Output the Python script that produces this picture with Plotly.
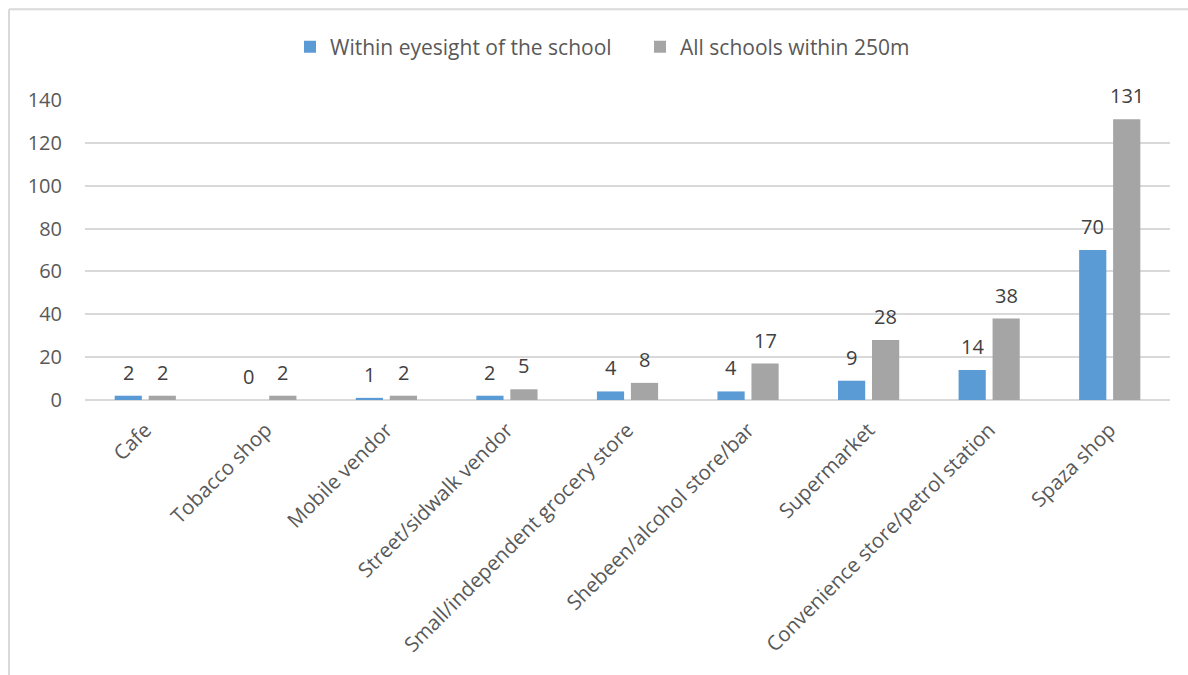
import plotly.graph_objects as go

categories = [
    "Cafe", "Tobacco shop", "Mobile vendor", "Street/sidwalk vendor",
    "Small/independent grocery store", "Shebeen/alcohol store/bar",
    "Supermarket", "Convenience store/petrol station", "Spaza shop",
]
within_eyesight = [2, 0, 1, 2, 4, 4, 9, 14, 70]
within_250m = [2, 2, 2, 5, 8, 17, 28, 38, 131]
y_ticks = [0, 20, 40, 60, 80, 100, 120, 140]

FONT = "Open Sans"
TEXT = "#595959"
GRID = "#D9D9D9"

W, H = 1188, 675
L, R, T, B = 85, 18, 100, 274.5
plot_w = W - L - R
plot_h = H - T - B


def px_x(px):
    return (px - L) / plot_w


def px_y(py):
    return (H - B - py) / plot_h


fig = go.Figure()
fig.add_trace(go.Bar(
    x=categories, y=within_eyesight, name="Within eyesight of the school",
    marker=dict(color="#5B9BD5", line=dict(width=0)),
))
fig.add_trace(go.Bar(
    x=categories, y=within_250m, name="All schools within 250m",
    marker=dict(color="#A5A5A5", line=dict(width=0)),
))

# value labels above each bar
slot_px = plot_w / len(categories) * 0.282
annotations = []
for cat, a, b in zip(categories, within_eyesight, within_250m):
    for val, shift in ((a, -slot_px / 2), (b, slot_px / 2)):
        annotations.append(dict(
            x=cat, y=val, xref="x", yref="y", text=str(val),
            showarrow=False, xshift=shift, yanchor="bottom", yshift=8,
            font=dict(family=FONT, size=20, color="#404040"),
        ))

# chart frame (top and left edges)
shapes = [
    dict(type="line", xref="paper", yref="paper",
         x0=px_x(9), x1=px_x(W + 5), y0=px_y(9), y1=px_y(9),
         line=dict(color=GRID, width=2)),
    dict(type="line", xref="paper", yref="paper",
         x0=px_x(9), x1=px_x(9), y0=px_y(9), y1=px_y(H + 5),
         line=dict(color=GRID, width=2)),
]

fig.update_layout(
    width=W, height=H,
    margin=dict(l=L, r=R, t=T, b=B, autoexpand=False),
    paper_bgcolor="white", plot_bgcolor="white",
    barmode="group", bargap=0.436, bargroupgap=0.2,
    font=dict(family=FONT, size=20, color=TEXT),
    legend=dict(
        orientation="h", x=px_x(290), y=px_y(47), xanchor="left",
        yanchor="middle", font=dict(family=FONT, size=21, color=TEXT),
        entrywidth=305, entrywidthmode="pixels",
        itemclick=False, bgcolor="rgba(0,0,0,0)",
    ),
    annotations=annotations,
    shapes=shapes,
    showlegend=True,
)
fig.update_xaxes(
    tickangle=-45, showgrid=False, showline=False, zeroline=False,
    ticks="", automargin=False, ticklabelstandoff=13,
    tickfont=dict(family=FONT, size=20.5, color=TEXT),
)
fig.update_yaxes(
    range=[0, 140], tickvals=y_ticks, showgrid=True, gridcolor=GRID,
    gridwidth=1.5, zeroline=True, zerolinecolor=GRID, zerolinewidth=1.5,
    showline=False, ticks="", automargin=False, ticklabelstandoff=22,
    tickfont=dict(family=FONT, size=20, color=TEXT),
)

fig.write_html("out.html")
